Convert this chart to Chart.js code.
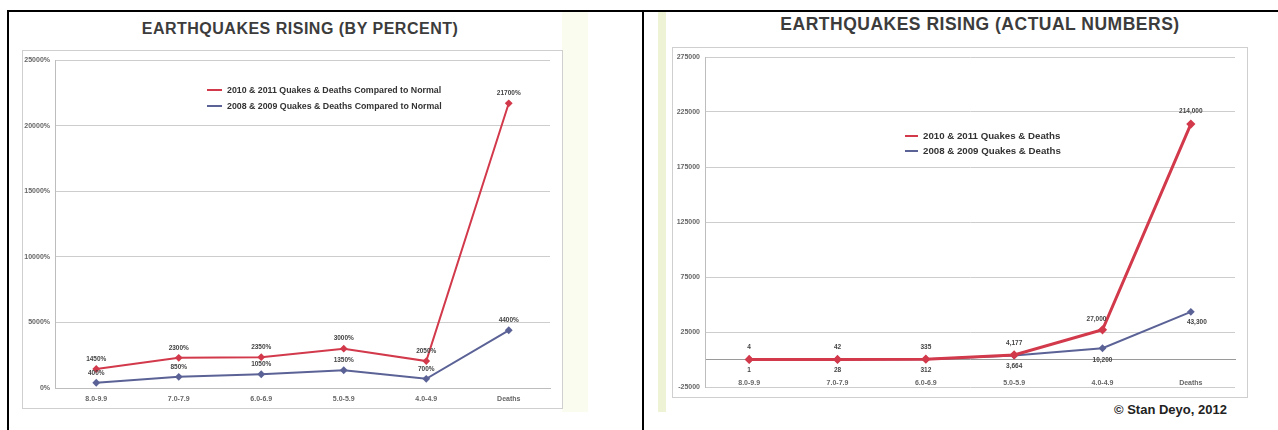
<!DOCTYPE html>
<html>
<head>
<meta charset="utf-8">
<script src="https://cdn.jsdelivr.net/npm/chart.js@4.4.1/dist/chart.umd.min.js"></script>
<style>
  html, body { margin: 0; padding: 0; background: #fff; }
  body { width: 1278px; height: 430px; overflow: hidden; position: relative; font-family: "Liberation Sans", Arial, sans-serif; }
  .frame { position: absolute; left: 7px; top: 10px; width: 1275px; height: 440px; border: 2px solid #000; box-sizing: border-box; }
  .divider { position: absolute; left: 642px; top: 10px; width: 2px; height: 430px; background: #000; }
  .box { position: absolute; border: 1px solid #cfcfcf; box-sizing: border-box; }
  .tint { position: absolute; background: #fafcef; }
  .title { position: absolute; font-weight: bold; color: #3c3c3c; white-space: nowrap; transform: translateX(-50%); letter-spacing: 0.5px; }
  .legend { position: absolute; font-weight: bold; color: #333; white-space: nowrap; }
  .legend div { display: flex; align-items: center; }
  .legend span.sw { display: inline-block; height: 2px; margin-right: 5px; }
  canvas { position: absolute; }
  .copy { position: absolute; left: 1114px; top: 402px; font-weight: bold; font-size: 13px; color: #222; white-space: nowrap; }
</style>
</head>
<body>
<div class="frame"></div>
<div class="divider"></div>

<div class="tint" style="left:562px; top:12px; width:26px; height:400px;"></div>
<div class="tint" style="left:658px; top:12px; width:8px; height:400px; background:#eef3d6;"></div>

<div class="box" style="left:22px; top:50px; width:541px; height:359px;"></div>
<div class="box" style="left:672px; top:47px; width:576px; height:351px;"></div>

<div class="title" style="left:300px; top:20px; font-size:16px;">EARTHQUAKES RISING (BY PERCENT)</div>
<div class="title" style="left:980px; top:14px; font-size:17.5px;">EARTHQUAKES RISING (ACTUAL NUMBERS)</div>

<canvas id="pct-chart" width="540" height="358" style="left:22px; top:50px;"></canvas>
<canvas id="num-chart" width="575" height="350" style="left:672px; top:47px;"></canvas>

<div class="legend" style="left:207px; top:82px; font-size:8.8px; line-height:16px;">
  <div><span class="sw" style="width:15px; background:#d2394b;"></span>2010 &amp; 2011 Quakes &amp; Deaths Compared to Normal</div>
  <div><span class="sw" style="width:15px; background:#5b6296;"></span>2008 &amp; 2009 Quakes &amp; Deaths Compared to Normal</div>
</div>
<div class="legend" style="left:905px; top:128px; font-size:9.7px; line-height:15px;">
  <div><span class="sw" style="width:13px; background:#d2394b;"></span>2010 &amp; 2011 Quakes &amp; Deaths</div>
  <div><span class="sw" style="width:13px; background:#5b6296;"></span>2008 &amp; 2009 Quakes &amp; Deaths</div>
</div>

<div class="copy">© Stan Deyo, 2012</div>

<script>
const CATEGORIES = ['8.0-9.9', '7.0-7.9', '6.0-6.9', '5.0-5.9', '4.0-4.9', 'Deaths'];

// percent of normal
const PCT_2010_2011 = [1450, 2300, 2350, 3000, 2050, 21700];
const PCT_2008_2009 = [400, 850, 1050, 1350, 700, 4400];

// actual counts
const NUM_2010_2011 = [4, 42, 335, 4177, 27000, 214000];
const NUM_2008_2009 = [1, 28, 312, 3664, 10200, 43300];

const PCT_TICKS = { min: 0, max: 25000, step: 5000 };
const NUM_TICKS = { min: -25000, max: 275000, step: 50000 };

const RED  = '#d2394b';
const BLUE = '#5b6296';
const TICK_FONT = { family: 'Liberation Sans', size: 7, weight: 'bold' };

// value labels next to each point
const pointLabels = {
    id: 'pointLabels',
    afterDatasetsDraw(chart) {
        const ctx = chart.ctx;
        ctx.save();
        ctx.font = 'bold 6.5px "Liberation Sans"';
        ctx.fillStyle = '#444';
        ctx.textAlign = 'center';
        ctx.textBaseline = 'middle';
        chart.data.datasets.forEach((ds, i) => {
            const meta = chart.getDatasetMeta(i);
            meta.data.forEach((pt, j) => {
                const off = (ds.labelOffsets && ds.labelOffsets[j]) || [0, ds.labelDy];
                ctx.fillText(ds.labelFmt(ds.data[j]), pt.x + off[0], pt.y + off[1]);
            });
        });
        ctx.restore();
    }
};

function lineSet(label, data, color, width, extra) {
    return Object.assign({
        label,
        data,
        borderColor: color,
        backgroundColor: color,
        borderWidth: width,
        pointStyle: 'rectRot',
        pointRadius: 2.5,
        tension: 0,
    }, extra);
}

new Chart(document.getElementById('pct-chart'), {
    type: 'line',
    data: {
        labels: CATEGORIES,
        datasets: [
            lineSet('2010 & 2011 Quakes & Deaths Compared to Normal', PCT_2010_2011, RED, 2,
                { labelDy: -10, labelFmt: v => v + '%' }),
            lineSet('2008 & 2009 Quakes & Deaths Compared to Normal', PCT_2008_2009, BLUE, 2,
                { labelDy: -10, labelFmt: v => v + '%' }),
        ],
    },
    options: {
        responsive: false,
        animation: false,
        layout: { padding: { top: 10, right: 12, left: 0, bottom: 0 } },
        plugins: { legend: { display: false }, tooltip: { enabled: false } },
        scales: {
            x: {
                offset: true,
                grid: { display: false, drawTicks: false },
                border: { display: true, color: '#bdbdbd' },
                ticks: { font: TICK_FONT, color: '#666', padding: 7, maxRotation: 0 },
                afterFit: s => { s.height = 20; },
            },
            y: {
                min: PCT_TICKS.min,
                max: PCT_TICKS.max,
                grid: { color: '#cdcdcd', drawTicks: false },
                border: { display: true, color: '#bdbdbd' },
                ticks: { stepSize: PCT_TICKS.step, font: TICK_FONT, color: '#666', padding: 5,
                         callback: v => v + '%' },
                afterFit: s => { s.width = 33; },
            },
        },
    },
    plugins: [pointLabels],
});

new Chart(document.getElementById('num-chart'), {
    type: 'line',
    data: {
        labels: CATEGORIES,
        datasets: [
            lineSet('2010 & 2011 Quakes & Deaths', NUM_2010_2011, RED, 3,
                { labelDy: -12, labelOffsets: { 4: [-6, -11], 5: [0, -13] },
                  labelFmt: v => v.toLocaleString('en-US') }),
            lineSet('2008 & 2009 Quakes & Deaths', NUM_2008_2009, BLUE, 2,
                { labelDy: 11, labelOffsets: { 4: [0, 12], 5: [6, 10] },
                  labelFmt: v => v.toLocaleString('en-US') }),
        ],
    },
    options: {
        responsive: false,
        animation: false,
        layout: { padding: { top: 10, right: 12, left: 0, bottom: 10 } },
        plugins: { legend: { display: false }, tooltip: { enabled: false } },
        scales: {
            x: {
                offset: true,
                position: { y: 0 },
                grid: { display: false, drawTicks: false },
                border: { display: true, color: '#9a9a9a' },
                ticks: { font: TICK_FONT, color: '#666', padding: 19, maxRotation: 0 },
            },
            y: {
                min: NUM_TICKS.min,
                max: NUM_TICKS.max,
                grid: { color: '#cdcdcd', drawTicks: false },
                border: { display: true, color: '#bdbdbd' },
                ticks: { stepSize: NUM_TICKS.step, font: TICK_FONT, color: '#666', padding: 5,
                         callback: v => String(v) },
                afterFit: s => { s.width = 33; },
            },
        },
    },
    plugins: [pointLabels],
});
</script>
</body>
</html>
